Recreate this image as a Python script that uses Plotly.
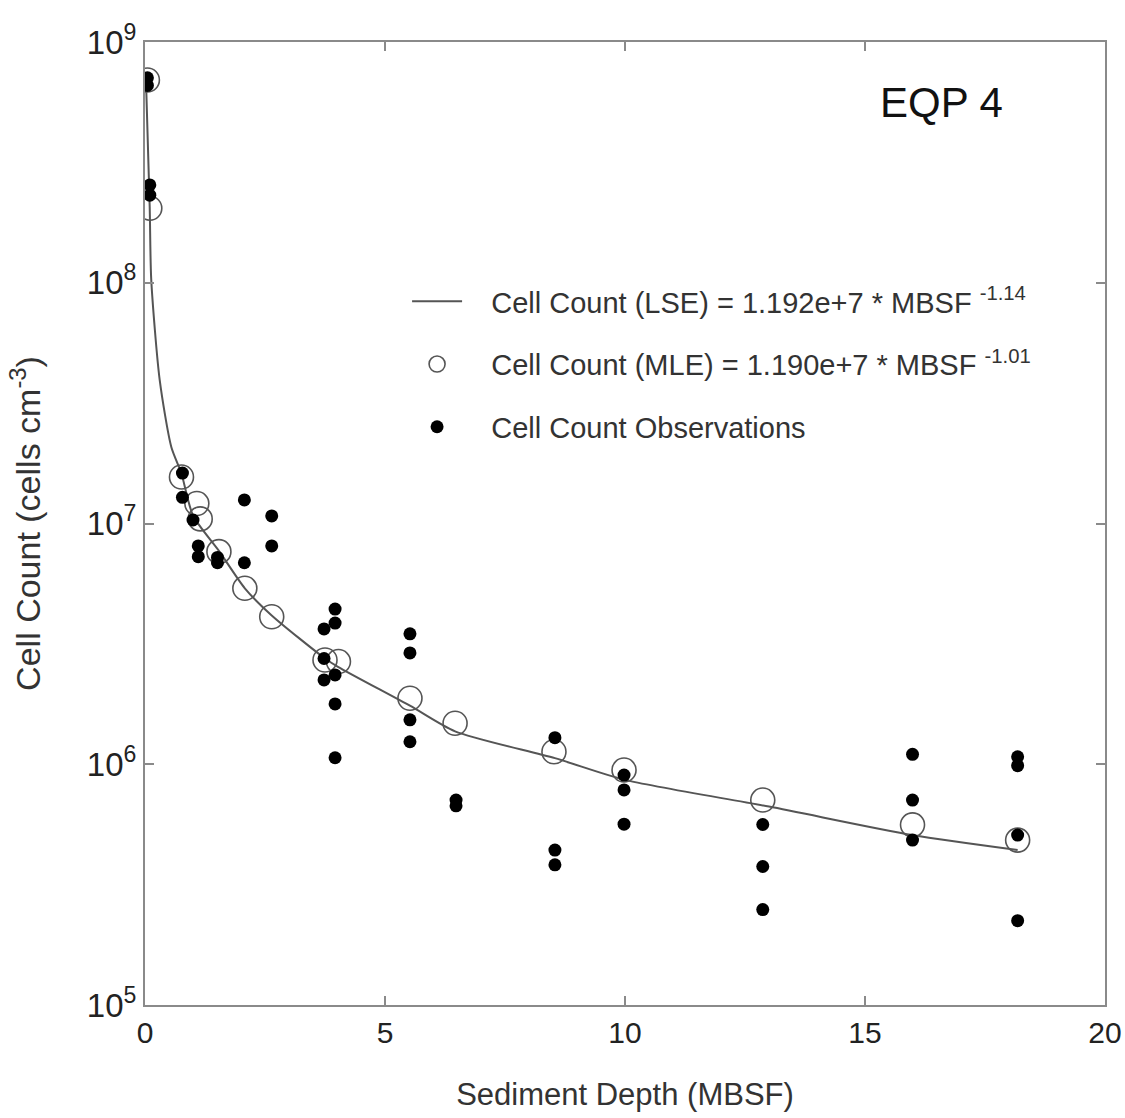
import plotly.graph_objects as go

# Observations (filled dots)
obs_depth = [0.05, 0.05, 0.1, 0.1, 0.78, 0.78, 1.0, 1.11, 1.11, 1.51, 1.51,
             2.07, 2.07, 2.64, 2.64, 3.73, 3.73, 3.73, 3.96, 3.96, 3.96, 3.96, 3.96,
             5.52, 5.52, 5.52, 5.52, 6.48, 6.48, 8.54, 8.54, 8.54,
             9.98, 9.98, 9.98, 12.87, 12.87, 12.87, 15.99, 15.99, 15.99,
             18.18, 18.18, 18.18, 18.18]
obs_count = [7.1e8, 6.6e8, 2.55e8, 2.31e8, 1.62e7, 1.285e7, 1.034e7, 8.07e6, 7.28e6, 7.23e6, 6.87e6,
             1.253e7, 6.87e6, 1.075e7, 8.07e6, 3.65e6, 2.75e6, 2.24e6, 4.41e6, 3.86e6, 2.35e6, 1.78e6, 1.064e6,
             3.48e6, 2.90e6, 1.53e6, 1.24e6, 7.1e5, 6.72e5, 1.29e6, 4.40e5, 3.82e5,
             9.02e5, 7.82e5, 5.64e5, 5.62e5, 3.76e5, 2.49e5, 1.10e6, 7.1e5, 4.84e5,
             1.074e6, 9.86e5, 5.08e5, 2.24e5]

# MLE predictions (open circles)
mle_depth = [0.05, 0.1, 0.76, 1.08, 1.15, 1.54, 2.08, 2.64, 3.75, 4.03,
             5.52, 6.46, 8.52, 9.98, 12.87, 15.99, 18.18]
mle_count = [6.95e8, 2.04e8, 1.56e7, 1.21e7, 1.045e7, 7.64e6, 5.38e6, 4.10e6, 2.71e6, 2.67e6,
             1.88e6, 1.48e6, 1.127e6, 9.46e5, 7.1e5, 5.60e5, 4.84e5]

# LSE curve
lse_depth = [0.02, 0.098, 0.13, 0.306, 0.548, 0.756, 1.0, 1.54, 2.08, 2.64, 3.75, 4.02,
             5.52, 6.46, 8.54, 10.0, 13.0, 15.99, 18.18]
lse_count = [7.0e8, 2.07e8, 1.03e8, 3.95e7, 2.08e7, 1.62e7, 1.08e7, 7.7e6, 5.38e6, 4.15e6, 2.75e6, 2.54e6,
             1.75e6, 1.37e6, 1.06e6, 8.61e5, 6.67e5, 5.08e5, 4.40e5]

x_ticks = [0, 5, 10, 15, 20]
y_tickvals = [1e5, 1e6, 1e7, 1e8, 1e9]
y_ticktext = ["10<sup>5</sup>", "10<sup>6</sup>", "10<sup>7</sup>", "10<sup>8</sup>", "10<sup>9</sup>"]

FONT = "Liberation Sans, Arial, Helvetica, sans-serif"
AX = "#8a8a8a"
GAP = "\u00a0\u00a0\u00a0"

fig = go.Figure()
fig.add_trace(go.Scatter(
    x=lse_depth, y=lse_count, mode="lines",
    line=dict(color="#555555", width=2, shape="spline", smoothing=0.7),
    name=GAP + "Cell Count (LSE) = 1.192e+7 * MBSF <sup>-1.14</sup>",
    legendgroup="a", legendrank=1))
fig.add_trace(go.Scatter(
    x=mle_depth, y=mle_count, mode="markers",
    marker=dict(symbol="circle-open", size=24, color="#555555", line=dict(width=1.6)),
    name=GAP + "Cell Count (MLE) = 1.190e+7 * MBSF <sup>-1.01</sup>",
    legendgroup="b", legendrank=2))
fig.add_trace(go.Scatter(
    x=obs_depth, y=obs_count, mode="markers",
    marker=dict(symbol="circle", size=13, color="#000000"),
    name=GAP + "Cell Count Observations",
    legendgroup="c", legendrank=3))

fig.update_layout(
    width=1125, height=1118,
    margin=dict(l=145, r=20, t=42, b=113),
    paper_bgcolor="white", plot_bgcolor="white",
    font=dict(family=FONT, color="#222222", size=28),
    showlegend=True,
    legend=dict(x=0.273, y=0.757, xanchor="left", yanchor="top",
                bgcolor="rgba(0,0,0,0)", font=dict(size=29, color="#333333"),
                tracegroupgap=22, itemwidth=50),
    annotations=[dict(text="EQP 4", x=0.896, y=0.937, xref="paper", yref="paper",
                      xanchor="right", yanchor="middle", showarrow=False,
                      font=dict(size=42, color="#111111"))],
)
fig.update_xaxes(
    range=[0, 20], tickvals=x_ticks, ticks="inside", ticklen=9, tickcolor=AX, tickwidth=1.5,
    showline=True, linecolor=AX, linewidth=2, mirror="ticks", showgrid=False, zeroline=False,
    automargin=False,
    tickfont=dict(size=30, color="#222222"),
    title=dict(text="Sediment Depth (MBSF)", font=dict(size=31, color="#333333"), standoff=35),
)
fig.update_yaxes(
    type="log", range=[5, 9], tickvals=y_tickvals, ticktext=y_ticktext,
    ticks="inside", ticklen=9, tickcolor=AX, tickwidth=1.5,
    showline=True, linecolor=AX, linewidth=2, mirror="ticks", showgrid=False, zeroline=False,
    automargin=False,
    tickfont=dict(size=33, color="#222222"),
    title=dict(text="Cell Count (cells cm<sup>-3</sup>)", font=dict(size=34, color="#333333"), standoff=36),
)
fig.write_html("out.html")
